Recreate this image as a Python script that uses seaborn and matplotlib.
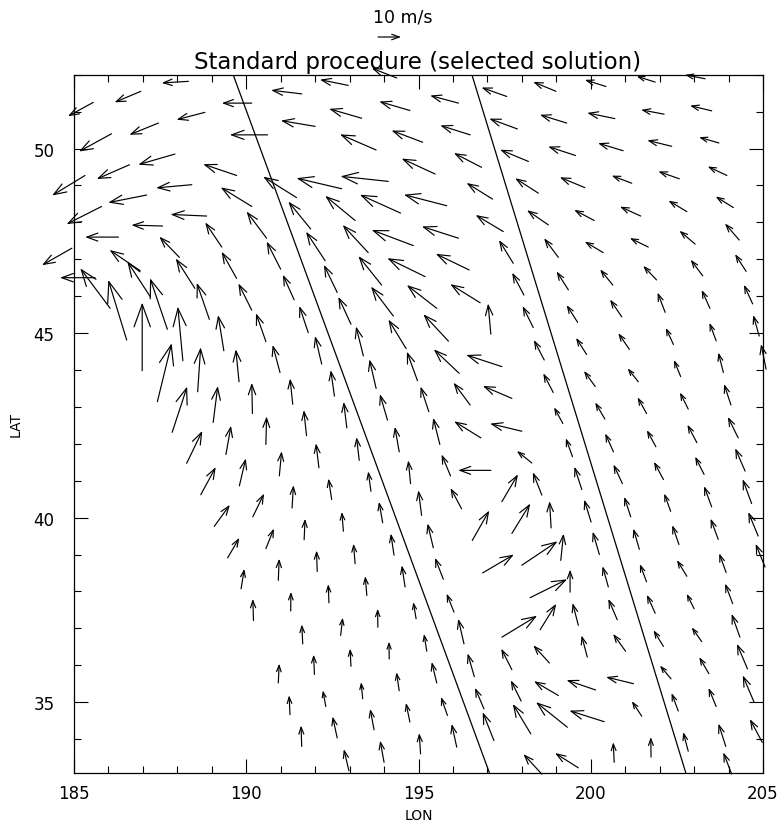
import numpy as np
import seaborn as sns
import matplotlib
matplotlib.use("Agg")
import matplotlib.pyplot as plt
from matplotlib.transforms import offset_copy

# wind vectors: tail position (deg) and components (m/s), one line per swath row
lon = [
    185.56, 186.94, 188.32,
    186.09, 187.45, 188.80, 190.16, 191.61, 192.96, 194.37,
    185.32, 186.61, 187.93, 190.62, 192.00, 193.35, 194.75, 196.16, 197.56, 198.99, 200.44, 201.87, 203.32,
    185.80, 187.11, 188.42, 189.72, 193.77, 195.12, 196.50, 197.87, 199.30, 200.70, 202.13, 203.51,
    184.94, 186.29, 187.57, 188.85, 190.16, 191.46, 192.77, 194.12, 195.48, 196.83, 198.19, 199.56, 200.94, 202.35, 203.72,
    185.61, 186.92, 188.06, 189.29, 190.59, 191.87, 193.16, 194.48, 195.82, 197.15, 198.48, 199.83, 201.19, 202.57, 203.95,
    186.05, 187.21, 188.51, 189.72, 191.00, 192.29, 193.54, 194.85, 196.16, 197.46, 198.77, 200.10, 201.45, 202.79, 204.14,
    186.53, 187.71, 188.93, 190.16, 191.39, 192.64, 193.93, 195.19, 196.47, 197.75, 199.06, 200.36, 201.67, 203.03, 204.31,
    186.98, 188.16, 189.35, 190.57, 191.80, 193.04, 194.27, 195.53, 196.79, 198.06, 199.35, 200.64, 201.91, 203.25, 204.51,
    187.42, 188.59, 189.79, 190.98, 192.19, 193.40, 194.64, 195.87, 197.10, 198.33, 199.62, 200.90, 202.16, 203.46, 204.70,
    187.85, 189.04, 190.18, 191.35, 192.56, 193.77, 194.97, 196.18, 197.42, 198.65, 199.88, 201.12, 202.40, 203.64, 204.89,
    188.27, 189.41, 190.57, 191.75, 192.92, 194.10, 195.30, 196.50, 197.71, 198.91, 200.13, 201.38, 202.61, 203.85, 205.09,
    188.68, 189.80, 190.96, 192.11, 193.28, 194.44, 195.62, 196.81, 198.00, 199.19, 200.41, 201.62, 202.83, 204.07,
    189.07, 190.19, 191.33, 192.48, 193.62, 194.77, 195.93, 197.10, 198.29, 199.47, 200.66, 201.89, 203.08, 204.28,
    189.46, 190.57, 191.68, 192.82, 193.96, 195.09, 196.25, 197.42, 198.58, 199.74, 200.92, 202.11, 203.29, 204.48,
    189.85, 190.93, 192.06, 193.16, 194.29, 195.43, 196.56, 197.71, 198.85, 200.01, 201.16, 202.32, 203.51, 204.67,
    190.21, 191.29, 192.40, 193.50, 194.61, 195.72, 196.86, 198.00, 199.13, 200.25, 201.41, 202.56, 203.70, 204.86,
    191.64, 192.74, 193.82, 194.93, 196.03, 198.24, 199.40, 200.51, 201.62, 202.79, 203.93, 205.06,
    190.93, 191.98, 193.04, 194.15, 195.24, 196.32, 197.42, 198.53, 199.64, 200.77, 201.87, 203.00, 204.12,
    191.27, 192.31, 193.38, 194.44, 195.53, 196.62, 197.71, 198.80, 199.90, 201.01, 202.11, 203.22, 204.33,
    191.61, 192.64, 193.71, 194.75, 195.84, 196.90, 197.98, 199.06, 200.14, 201.24, 202.33, 203.43, 204.55,
    192.98, 194.00, 195.06, 196.11, 197.19, 198.26, 199.32, 200.39, 201.48, 202.54, 203.64, 204.74,
    198.58, 199.64, 200.68, 201.75, 202.83, 203.92, 204.98, 204.09,
]
lat = [
    51.25, 51.55, 51.82,
    50.40, 50.69, 50.98, 51.23, 51.48, 51.71, 51.91,
    49.27, 49.56, 49.85, 50.37, 50.60, 50.82, 51.03, 51.23, 51.41, 51.55, 51.68, 51.80, 51.89,
    48.43, 48.74, 49.02, 49.27, 49.96, 50.17, 50.37, 50.53, 50.69, 50.81, 50.93, 51.02,
    47.30, 47.60, 47.90, 48.17, 48.43, 48.67, 48.91, 49.11, 49.31, 49.49, 49.65, 49.81, 49.94, 50.06, 50.15,
    46.50, 46.69, 47.05, 47.33, 47.57, 47.82, 48.05, 48.25, 48.45, 48.63, 48.79, 48.94, 49.06, 49.18, 49.27,
    45.67, 45.99, 46.21, 46.48, 46.73, 46.96, 47.18, 47.37, 47.57, 47.75, 47.93, 48.05, 48.17, 48.29, 48.40,
    44.81, 45.10, 45.37, 45.62, 45.90, 46.10, 46.30, 46.53, 46.71, 46.89, 47.05, 47.18, 47.33, 47.41, 47.52,
    43.98, 44.25, 44.52, 44.77, 45.01, 45.24, 45.46, 45.67, 45.82, 46.03, 46.17, 46.30, 46.44, 46.55, 46.67,
    43.14, 43.41, 43.68, 43.93, 44.16, 44.38, 44.58, 44.78, 44.97, 45.15, 45.29, 45.44, 45.56, 45.67, 45.79,
    42.31, 42.58, 42.82, 43.07, 43.29, 43.50, 43.71, 43.91, 44.09, 44.27, 44.42, 44.56, 44.69, 44.79, 44.92,
    41.47, 41.71, 41.98, 42.22, 42.43, 42.64, 42.87, 43.05, 43.23, 43.39, 43.55, 43.68, 43.82, 43.93, 44.02,
    40.62, 40.86, 41.13, 41.35, 41.55, 41.78, 41.98, 42.16, 42.34, 42.55, 42.67, 42.82, 42.94, 43.05,
    39.76, 40.02, 40.26, 40.49, 40.71, 40.92, 41.13, 41.28, 41.48, 41.65, 41.78, 41.92, 42.03, 42.16,
    38.91, 39.16, 39.40, 39.63, 39.86, 40.06, 40.24, 40.43, 40.61, 40.76, 40.92, 41.03, 41.17, 41.26,
    38.07, 38.30, 38.54, 38.75, 38.98, 39.18, 39.38, 39.57, 39.72, 39.88, 40.02, 40.17, 40.29, 40.38,
    37.21, 37.47, 37.69, 37.89, 38.12, 38.33, 38.50, 38.71, 38.84, 39.00, 39.14, 39.27, 39.41, 39.50,
    36.58, 36.81, 37.03, 37.26, 37.44, 37.83, 37.98, 38.12, 38.26, 38.41, 38.51, 38.66,
    35.52, 35.75, 35.97, 36.17, 36.38, 36.58, 36.76, 36.96, 37.08, 37.23, 37.41, 37.53, 37.67,
    34.66, 34.88, 35.09, 35.31, 35.52, 35.69, 35.88, 36.06, 36.22, 36.38, 36.51, 36.64, 36.76,
    33.80, 34.03, 34.25, 34.46, 34.64, 34.82, 35.03, 35.18, 35.33, 35.50, 35.63, 35.77, 35.90,
    33.14, 33.37, 33.60, 33.78, 33.96, 34.14, 34.32, 34.47, 34.62, 34.76, 34.88, 35.00,
    33.05, 33.22, 33.37, 33.51, 33.67, 33.80, 33.91, 33.05,
]
u = [
    -11.0, -11.4, -11.6,
    -14.1, -12.6, -12.3, -13.0, -13.3, -12.3, -10.9,
    -14.3, -14.2, -15.9, -16.4, -14.9, -14.1, -13.3, -12.3, -10.9, -9.9, -9.1, -8.0, -8.7,
    -15.2, -16.7, -15.5, -14.5, -15.7, -13.5, -13.0, -12.2, -11.6, -12.0, -10.0, -9.4,
    -13.0, -14.5, -13.5, -15.7, -13.5, -14.5, -19.6, -20.7, -14.5, -12.0, -12.3, -11.9, -10.9, -10.6, -8.6,
    -15.2, -13.3, -8.7, -7.2, -8.7, -9.7, -13.0, -17.7, -18.6, -11.3, -10.1, -10.9, -8.7, -9.1, -8.3,
    -13.0, -9.9, -8.3, -6.5, -6.1, -8.3, -11.1, -18.1, -15.9, -12.0, -9.3, -8.7, -9.0, -8.0, -7.7,
    -8.0, -7.5, -5.5, -5.8, -4.9, -5.8, -10.1, -16.4, -14.5, -6.2, -6.2, -8.0, -8.0, -6.8, -6.2,
    0.0, -2.2, -2.5, -4.3, -3.9, -5.5, -9.7, -13.0, -13.0, -5.1, -5.1, -5.5, -5.8, -5.2, -4.8,
    6.2, 1.3, -1.4, -3.2, -2.9, -3.2, -7.7, -10.9, -1.2, -4.6, -4.8, -5.1, -3.3, -3.6, -3.8,
    6.5, 2.0, -0.3, -1.2, -1.6, -2.9, -4.6, -11.0, -15.5, -4.5, -4.6, -4.8, -3.3, -2.9, -2.6,
    6.8, 2.2, 0.3, -1.2, -1.4, -3.3, -3.6, -7.2, -12.6, -4.3, -4.9, -4.6, -2.9, -2.2, -2.2,
    6.5, 2.8, 1.0, -1.3, -1.2, -1.9, -2.9, -11.6, -13.8, -3.8, -4.2, -3.9, -3.6, -3.0,
    6.8, 4.9, 0.6, -1.4, -1.2, -1.0, -3.9, -14.2, -6.5, -2.9, -3.6, -3.9, -4.1, -4.5,
    5.1, 3.5, 0.4, -0.7, -1.6, -1.4, -4.8, 7.0, -3.9, -3.2, -3.9, -4.1, -3.9, -4.3,
    1.4, 0.4, -0.3, -0.7, -1.4, -2.5, 7.4, 8.0, -0.7, -3.0, -2.8, -2.8, -3.3, -3.9,
    -0.3, 0.1, -0.3, -0.7, -1.4, -3.6, 13.6, 15.5, 1.2, -2.9, -2.6, -2.9, -3.3, -4.3,
    -0.4, 0.9, -0.1, -1.2, -3.2, 16.1, 0.0, -2.5, -2.9, -4.3, -3.0, -4.1,
    0.4, -0.4, -0.4, -0.1, -1.2, -2.5, 15.3, 7.0, -2.5, -3.9, -3.6, -3.2, -3.3,
    -0.4, -1.3, -0.7, -1.2, -2.2, -2.9, -4.6, -7.0, -2.5, -5.4, -4.3, -4.3, -3.6,
    -0.3, -2.0, -1.7, -1.7, -2.8, -3.9, -4.5, -10.6, -12.6, -11.9, -4.8, -4.2, -4.6,
    -2.2, -1.7, -0.6, -2.2, -4.9, -7.8, -13.6, -15.1, -4.3, -2.9, -3.3, -4.9,
    -8.0, -10.1, -0.4, -0.1, -2.2, -3.2, -5.4, -3.6,
]
v = [
    -6.0, -4.8, -0.7,
    -7.7, -5.1, -3.2, 0.0, 1.6, 2.5, 4.3,
    -8.7, -6.2, -4.6, 0.0, 2.5, 4.1, 3.9, 3.3, 3.9, 4.1, 2.9, 2.5, 1.7,
    -7.7, -3.3, -1.4, 4.9, 6.8, 5.1, 4.1, 4.5, 3.6, 2.5, 1.9, 2.3,
    -7.4, 0.0, 0.4, 0.7, 8.3, 9.1, 4.6, 2.2, 6.7, 6.2, 5.1, 3.9, 3.3, 2.6, 2.5,
    0.0, 9.0, 9.0, 10.7, 11.6, 11.9, 10.7, 8.0, 4.8, 7.0, 6.5, 4.5, 3.3, 3.2, 3.9,
    17.4, 15.2, 13.0, 11.6, 12.0, 12.6, 12.0, 6.8, 5.1, 7.2, 6.4, 4.6, 4.1, 4.8, 4.8,
    26.1, 22.2, 15.9, 11.6, 10.9, 12.0, 12.6, 8.0, 7.0, 10.1, 8.3, 4.8, 3.9, 5.8, 7.2,
    29.6, 23.5, 15.5, 12.3, 11.6, 11.9, 12.8, 10.1, 8.1, 9.7, 8.0, 6.8, 6.1, 7.0, 7.5,
    25.4, 19.3, 14.1, 12.0, 12.2, 12.8, 12.6, 11.7, 13.3, 9.3, 7.5, 7.5, 8.6, 8.0, 8.3,
    19.9, 15.8, 13.3, 11.2, 11.3, 12.6, 12.6, 10.4, 5.1, 8.7, 7.2, 7.0, 7.2, 7.8, 9.1,
    14.1, 12.5, 12.2, 11.1, 11.3, 11.3, 10.9, 9.7, 5.4, 8.3, 6.8, 5.8, 7.2, 8.7, 10.9,
    12.0, 11.9, 10.7, 10.6, 10.1, 10.9, 11.6, 7.2, 3.3, 7.0, 7.2, 7.0, 7.2, 9.1,
    9.4, 10.1, 9.9, 9.1, 8.7, 10.1, 9.3, 0.0, 5.2, 8.0, 8.0, 7.2, 7.8, 9.1,
    8.7, 8.7, 9.1, 8.4, 9.1, 10.9, 9.0, 11.9, 9.9, 9.9, 8.3, 7.7, 7.7, 9.9,
    8.7, 9.4, 9.1, 8.7, 9.4, 10.6, 13.0, 13.0, 11.6, 9.7, 8.7, 7.7, 9.0, 10.6,
    9.4, 8.3, 8.1, 8.4, 9.4, 9.3, 8.0, 10.4, 11.6, 9.9, 9.0, 8.4, 9.0, 10.4,
    8.4, 7.7, 8.0, 7.2, 8.0, 8.0, 9.8, 9.0, 7.7, 7.0, 8.3, 10.1,
    8.4, 8.6, 7.7, 7.5, 7.5, 10.9, 9.3, 11.3, 9.7, 9.1, 8.0, 6.5, 8.7,
    8.4, 7.0, 7.2, 8.0, 9.1, 10.1, 9.1, 7.7, 9.4, 7.5, 7.0, 6.2, 10.1,
    9.1, 9.3, 9.1, 8.3, 8.0, 9.1, 9.0, 6.2, 4.3, 2.9, 5.8, 7.2, 10.9,
    9.4, 9.4, 9.0, 10.1, 12.3, 13.0, 10.9, 4.8, 6.5, 7.8, 8.1, 11.6,
    8.7, 6.4, 8.7, 8.7, 8.3, 9.9, 10.1, 9.4,
]

# swath edge lines
edge1_lon = [189.62, 197.06]
edge1_lat = [52.0, 33.08]
edge2_lon = [196.55, 202.76]
edge2_lat = [52.0, 33.08]

ref_speed = 10  # m/s, key arrow
PT_PER_MS = 1.656  # arrow length in points per m/s

sns.set_style("ticks")
plt.rcParams["font.family"] = ["DejaVu Sans"]
plt.rcParams["text.color"] = "black"
plt.rcParams["axes.labelcolor"] = "black"

fig = plt.figure(figsize=(7.84, 8.29), dpi=100)
ax = fig.add_axes([74 / 784, 1 - 774 / 829, 689 / 784, 698.3 / 829])


def draw_arrow(x, y, uu, vv, trans):
    tip = offset_copy(trans, fig=fig, x=uu * PT_PER_MS, y=vv * PT_PER_MS, units="points")
    size = PT_PER_MS * np.hypot(uu, vv)
    if size < 0.5:
        return
    ax.annotate("", xy=(x, y), xycoords=tip, xytext=(x, y), textcoords=trans,
                annotation_clip=False,
                arrowprops=dict(arrowstyle="->,head_length=0.33,head_width=0.12",
                                mutation_scale=size, lw=0.85, color="black",
                                shrinkA=0, shrinkB=0))


for x, y, uu, vv in zip(lon, lat, u, v):
    draw_arrow(x, y, uu, vv, ax.transData)

sns.lineplot(x=edge1_lon, y=edge1_lat, sort=False, estimator=None, color="black", lw=0.9, ax=ax)
sns.lineplot(x=edge2_lon, y=edge2_lat, sort=False, estimator=None, color="black", lw=0.9, ax=ax)

ax.set_xlim(185, 205)
ax.set_ylim(33.08, 52.0)
ax.set_xticks([185, 190, 195, 200, 205])
ax.set_yticks([35, 40, 45, 50])
ax.set_xticks(np.arange(185, 206, 1), minor=True)
ax.set_yticks(np.arange(34, 53, 1), minor=True)
ax.tick_params(which="both", direction="in", top=True, right=True, width=0.8,
               color="black", labelcolor="black", labelsize=12)
ax.tick_params(which="major", length=10)
ax.tick_params(which="minor", length=5)
ax.tick_params(axis="x", which="major", pad=8)
ax.tick_params(axis="y", which="major", pad=14)
for s in ax.spines.values():
    s.set_linewidth(0.9)
    s.set_color("black")
ax.set_xlabel("LON", fontsize=10, labelpad=4)
ax.set_ylabel("LAT", fontsize=10, labelpad=8)

fig.text(418 / 784, 1 - 62 / 829, "Standard procedure (selected solution)",
         ha="center", va="center", fontsize=16.5)
fig.text(403 / 784, 1 - 18 / 829, "10 m/s", ha="center", va="center", fontsize=12.5)
draw_arrow(378 / 784, 1 - 38 / 829, ref_speed, 0.0, fig.transFigure)

fig.savefig("out.png", dpi=100)
